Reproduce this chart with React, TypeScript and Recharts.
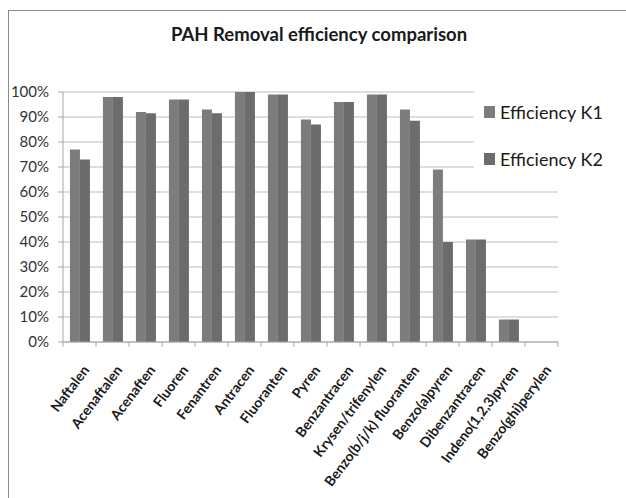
import React from 'react'
import { BarChart, Bar, XAxis, YAxis, CartesianGrid, Legend } from 'recharts'

// PAH removal, two reactors
const compounds = [
  'Naftalen', 'Acenaftalen', 'Acenaften', 'Fluoren', 'Fenantren', 'Antracen',
  'Fluoranten', 'Pyren', 'Benzantracen', 'Krysen/trifenylen',
  'Benzo(b/j/k) fluoranten', 'Benzo(a)pyren', 'Dibenzantracen',
  'Indeno(1,2,3)pyren', 'Benzo(ghi)perylen',
]
const effK1 = [0.77, 0.98, 0.92, 0.97, 0.93, 1.0, 0.99, 0.89, 0.96, 0.99, 0.93, 0.69, 0.41, 0.09, 0]
const effK2 = [0.73, 0.98, 0.915, 0.97, 0.915, 1.0, 0.99, 0.87, 0.96, 0.99, 0.885, 0.40, 0.41, 0.09, 0]
const yTicks = [0, 0.1, 0.2, 0.3, 0.4, 0.5, 0.6, 0.7, 0.8, 0.9, 1.0]

const COL_K1 = '#7c7c7c'
const COL_K2 = '#6c6c6c'
const FONT = 'Lato, "Open Sans", sans-serif'

const data = compounds.map((name, i) => ({ name, k1: effK1[i], k2: effK2[i] }))

// excel style: tick marks on category borders, bold slanted labels
function CategoryTick({ x, y, payload, index }: any) {
  const off = payload?.offset ?? 16.5
  const ax = x + 6
  const ay = y + 25
  return (
    <g>
      <line x1={x - off} y1={y} x2={x - off} y2={y + 5} stroke="#a6a6a6" />
      {index === compounds.length - 1 && (
        <line x1={x + off} y1={y} x2={x + off} y2={y + 5} stroke="#a6a6a6" />
      )}
      <text
        x={ax}
        y={ay}
        transform={`rotate(-53, ${ax}, ${ay})`}
        textAnchor="end"
        dominantBaseline="central"
        fontSize={14}
        fontWeight={700}
        fill="#1a1a1a"
        fontFamily={FONT}
      >
        {payload.value}
      </text>
    </g>
  )
}

function LegendBox() {
  const items = [
    { label: 'Efficiency K1', color: COL_K1 },
    { label: 'Efficiency K2', color: COL_K2 },
  ]
  return (
    <div style={{ background: '#fff', width: 152, height: 92, paddingTop: 16, boxSizing: 'border-box' }}>
      {items.map(it => (
        <div key={it.label} style={{ display: 'flex', alignItems: 'center', height: 24, marginBottom: 23 }}>
          <div style={{ width: 11, height: 12, background: it.color, marginLeft: 10, marginRight: 5 }} />
          <span style={{ fontFamily: FONT, fontSize: 18, color: '#1a1a1a' }}>{it.label}</span>
        </div>
      ))}
    </div>
  )
}

export default function App() {
  return (
    <div style={{ position: 'absolute', left: 0, top: 0, width: 626, height: 498, background: '#fff', overflow: 'hidden' }}>
      <div style={{ position: 'absolute', left: 8, top: 10, width: 640, height: 500, borderTop: '1px solid #8a8a8a', borderLeft: '1px solid #8a8a8a' }} />
      <div style={{ position: 'absolute', left: 0, top: 23, width: 638, textAlign: 'center', fontFamily: FONT, fontWeight: 700, fontSize: 18.5, color: '#1a1a1a' }}>
        PAH Removal efficiency comparison
      </div>
      <div style={{ position: 'absolute', left: 0, top: 0 }}>
        <BarChart
          width={626}
          height={498}
          data={data}
          margin={{ top: 92, right: 68, bottom: 126, left: 0 }}
          barCategoryGap="21%"
          barGap={0}
        >
          <CartesianGrid vertical={false} stroke="#bdbdbd" />
          <XAxis
            dataKey="name"
            height={30}
            interval={0}
            tickLine={false}
            tickSize={0}
            tickMargin={0}
            stroke="#a6a6a6"
            tick={<CategoryTick />}
          />
          <YAxis
            width={63}
            domain={[0, 1]}
            ticks={yTicks}
            tickFormatter={v => `${Math.round(v * 100)}%`}
            stroke="#a6a6a6"
            tickSize={5}
            tickMargin={9}
            tick={{ fontSize: 15, fill: '#333', fontFamily: FONT }}
          />
          <Legend
            layout="vertical"
            align="center"
            verticalAlign="middle"
            wrapperStyle={{ left: 474, top: 84, width: 152 }}
            content={<LegendBox />}
          />
          <Bar dataKey="k1" name="Efficiency K1" fill={COL_K1} isAnimationActive={false} />
          <Bar dataKey="k2" name="Efficiency K2" fill={COL_K2} isAnimationActive={false} />
        </BarChart>
      </div>
    </div>
  )
}
